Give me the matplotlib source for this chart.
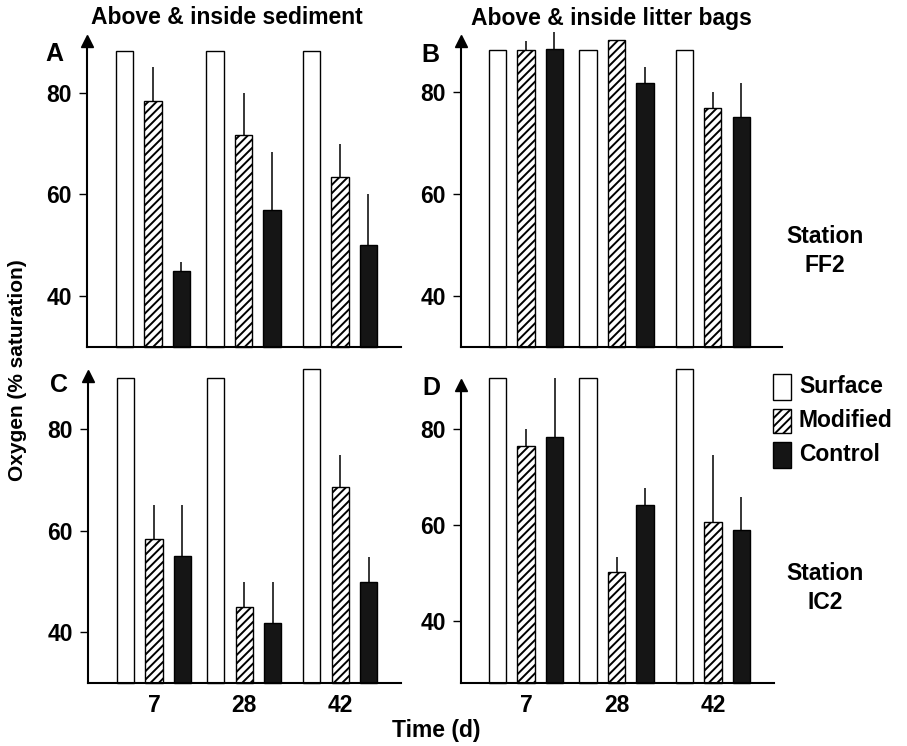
import numpy as np
import matplotlib
matplotlib.use("Agg")
import matplotlib.pyplot as plt
from matplotlib.patches import Rectangle

plt.rcParams['font.family'] = ['Liberation Sans', 'DejaVu Sans']
plt.rcParams['font.weight'] = 'bold'
plt.rcParams['hatch.linewidth'] = 1.4

# data (oxygen, % saturation)
days = ["7", "28", "42"]
series = ["Surface", "Modified", "Control"]

# A: FF2, sediment
a_surface = [88.2, 88.2, 88.2]
a_modified = [78.4, 71.7, 63.4]
a_modified_err = [6.6, 8.3, 6.6]
a_control = [45.0, 56.9, 50.1]
a_control_err = [1.6, 11.4, 9.9]

# B: FF2, litter bags
b_surface = [88.2, 88.2, 88.2]
b_modified = [88.2, 90.0, 76.7]
b_modified_err = [1.7, 0.0, 3.2]
b_control = [88.4, 81.7, 75.1]
b_control_err = [3.2, 3.2, 6.5]

# C: IC2, sediment
c_surface = [90.0, 90.0, 91.7]
c_modified = [58.4, 45.0, 68.5]
c_modified_err = [6.6, 5.0, 6.4]
c_control = [55.1, 41.8, 50.0]
c_control_err = [9.9, 8.2, 4.8]

# D: IC2, litter bags
d_surface = [90.6, 90.6, 92.4]
d_modified = [76.5, 50.1, 60.6]
d_modified_err = [3.5, 3.3, 14.0]
d_control = [78.3, 64.2, 58.9]
d_control_err = [12.3, 3.4, 6.9]

W, H = 907, 746
FS = 16.5
fig = plt.figure(figsize=(W / 100, H / 100), dpi=100)


def box(x0, y0, x1, y1):
    # pixel box (top-left origin) -> figure fraction rect
    return [x0 / W, 1 - y1 / H, (x1 - x0) / W, (y1 - y0) / H]


group_x = np.array([0.0, 1.0, 2.065])
off = 0.315
bw = 0.19
black = "#151515"


def panel(rect, ylim, xlim, surface, modified, mod_err, control, ctl_err, letter, letter_xy, bottom):
    ax = fig.add_axes(rect)
    y0 = ylim[0]
    surface = np.array(surface)
    modified = np.array(modified)
    control = np.array(control)
    ax.bar(group_x - off, surface - y0, bw, bottom=y0, facecolor="white",
           edgecolor="black", linewidth=1.0, clip_on=False)
    ax.bar(group_x, modified - y0, bw, bottom=y0, facecolor="white",
           edgecolor="black", linewidth=1.0, hatch="////", clip_on=False)
    ax.bar(group_x + off, control - y0, bw, bottom=y0, facecolor=black,
           edgecolor="black", linewidth=1.0, clip_on=False)
    zeros = np.zeros(3)
    ax.errorbar(group_x, modified, yerr=[zeros, mod_err], fmt="none",
                ecolor="black", elinewidth=1.1, capsize=0, clip_on=False)
    ax.errorbar(group_x + off, control, yerr=[zeros, ctl_err], fmt="none",
                ecolor="black", elinewidth=1.1, capsize=0, clip_on=False)

    ax.set_ylim(*ylim)
    ax.set_xlim(*xlim)
    ax.set_yticks([40, 60, 80])
    ax.tick_params(axis="y", direction="out", length=6, width=1.0, pad=5, labelsize=FS)
    ax.spines["top"].set_visible(False)
    ax.spines["right"].set_visible(False)
    ax.spines["left"].set_linewidth(1.5)
    ax.spines["bottom"].set_linewidth(1.5)
    ax.set_xticks(group_x)
    if bottom:
        ax.set_xticklabels(days)
        ax.tick_params(axis="x", length=0, pad=8, labelsize=FS)
    else:
        ax.set_xticklabels([])
        ax.tick_params(axis="x", length=0)
    # arrow head on the y axis
    ax.plot(0, 1, marker="^", ms=9, color="black", transform=ax.transAxes, clip_on=False)
    fig.text(letter_xy[0] / W, 1 - letter_xy[1] / H, letter, fontsize=18,
             ha="center", va="center")
    return ax


panel(box(87, 41, 401, 346.7), (30.0, 90.2), (-0.729, 2.74),
      a_surface, a_modified, a_modified_err, a_control, a_control_err, "A", (54.5, 54), False)
panel(box(461, 41, 782, 346.7), (30.07, 89.9), (-0.718, 2.83),
      b_surface, b_modified, b_modified_err, b_control, b_control_err, "B", (430, 55), False)
panel(box(88.3, 376, 401, 683.3), (30.0, 90.4), (-0.729, 2.74),
      c_surface, c_modified, c_modified_err, c_control, c_control_err, "C", (58.7, 385), True)
panel(box(461, 384.7, 774, 683.3), (27.0, 89.2), (-0.718, 2.74),
      d_surface, d_modified, d_modified_err, d_control, d_control_err, "D", (431.7, 388), True)

# titles and labels
fig.text(226.8 / W, 1 - 18 / H, "Above & inside sediment", fontsize=FS, ha="center", va="center")
fig.text(611 / W, 1 - 18 / H, "Above & inside litter bags", fontsize=FS, ha="center", va="center")
fig.text(18 / W, 1 - 370 / H, "Oxygen (% saturation)", fontsize=15, rotation=90,
         ha="center", va="center")
fig.text(436 / W, 1 - 730 / H, "Time (d)", fontsize=FS, ha="center", va="center")
fig.text(825 / W, 1 - 251 / H, "Station\nFF2", fontsize=FS, ha="center", va="center",
         linespacing=1.35)
fig.text(825 / W, 1 - 588 / H, "Station\nIC2", fontsize=FS, ha="center", va="center",
         linespacing=1.35)

# legend drawn by hand
legend_rows = [(374, 399.5, dict(facecolor="white")),
               (408.5, 433.3, dict(facecolor="white", hatch="////")),
               (441.7, 468, dict(facecolor=black))]
for name, (top, bot, style) in zip(series, legend_rows):
    r = box(772.5, top, 790.5, bot)
    fig.add_artist(Rectangle((r[0], r[1]), r[2], r[3], transform=fig.transFigure,
                             edgecolor="black", linewidth=1.0, **style))
    fig.text(799 / W, 1 - (top + bot) / 2 / H, name, fontsize=FS, ha="left", va="center")

fig.savefig("out.png", dpi=100)
